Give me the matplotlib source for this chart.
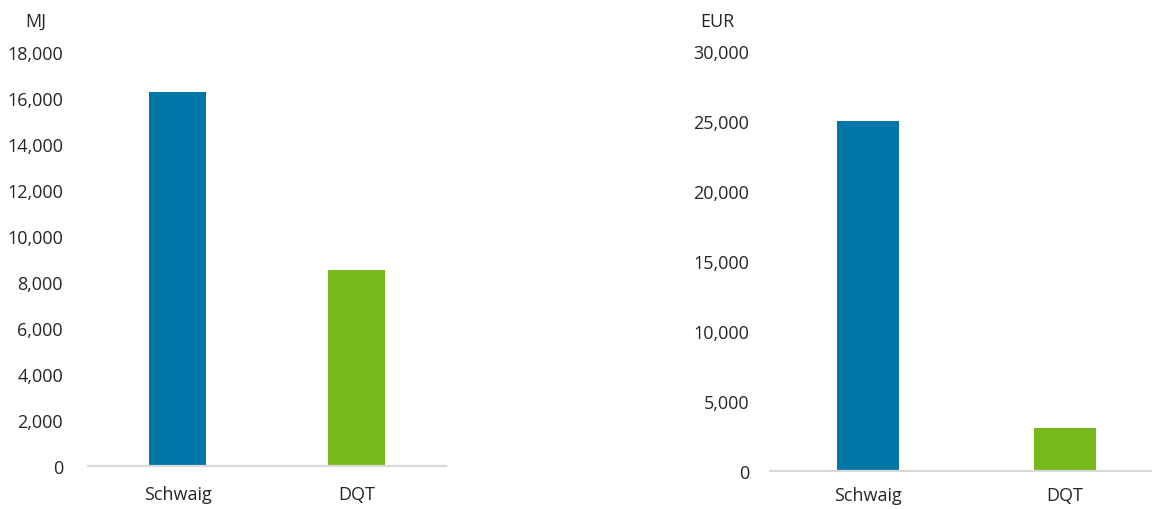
import matplotlib
matplotlib.use("Agg")
import matplotlib.pyplot as plt
from matplotlib.ticker import FuncFormatter

categories = ["Schwaig", "DQT"]
energy_mj = [16250, 8500]
cost_eur = [25000, 3070]
colors = ["#0077a6", "#77b91b"]
mj_ticks = [0, 2000, 4000, 6000, 8000, 10000, 12000, 14000, 16000, 18000]
eur_ticks = [0, 5000, 10000, 15000, 20000, 25000, 30000]

plt.rcParams['font.family'] = ['Open Sans', 'DejaVu Sans']
text_color = "#262626"

fig = plt.figure(figsize=(11.52, 5.10), dpi=100)
ax1 = fig.add_axes([0.0764, 0.0849, 0.3108, 0.8118])
ax2 = fig.add_axes([0.668, 0.0751, 0.342, 0.8235])

fmt = FuncFormatter(lambda v, p: f"{int(v):,}")

def style(ax, values, ticks, unit, width, unit_x, ypad, xpad):
    x = list(range(len(categories)))
    ax.bar(x, values, width=width, color=colors, zorder=2)
    ax.set_xlim(-0.5, len(categories) - 0.5)
    ax.set_ylim(ticks[0], ticks[-1])
    ax.set_yticks(ticks)
    ax.yaxis.set_major_formatter(fmt)
    ax.set_xticks(x)
    ax.set_xticklabels(categories)
    for s in ["top", "right", "left"]:
        ax.spines[s].set_visible(False)
    ax.spines["bottom"].set_color("#d9d9d9")
    ax.spines["bottom"].set_linewidth(1.6)
    ax.tick_params(axis="both", length=0, labelsize=13, colors=text_color)
    ax.tick_params(axis="y", pad=ypad)
    ax.tick_params(axis="x", pad=xpad)
    fig.text(unit_x, 1 - 22 / 510, unit, fontsize=13, color=text_color,
             ha="left", va="center")

style(ax1, energy_mj, mj_ticks, "MJ", 0.32, 25 / 1152, 18, 14)
style(ax2, cost_eur, eur_ticks, "EUR", 0.315, 700 / 1152, 14.5, 11)

fig.savefig("out.png", dpi=100)
